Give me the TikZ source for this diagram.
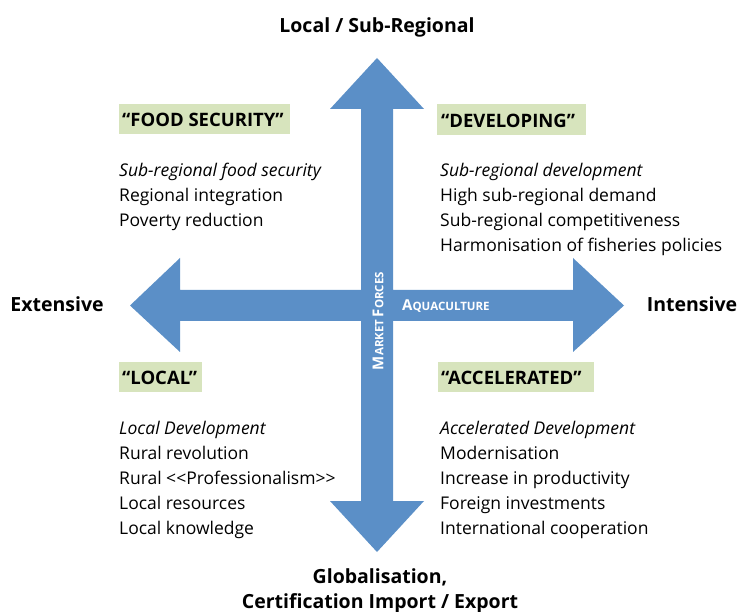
\documentclass[tikz,border=0pt]{standalone}
\usepackage{fontspec}
\setmainfont{Open Sans}
\definecolor{arrowblue}{RGB}{91,143,199}
\definecolor{labelgreen}{RGB}{215,228,189}
\begin{document}
\begin{tikzpicture}[x=1pt,y=-1pt,
  body/.style={font=\fontsize{17.5}{25}\selectfont, align=left, anchor=north west, inner sep=0pt},
  tag/.style={fill=labelgreen, inner sep=0pt, anchor=north west},
  tagtext/.style={anchor=west, font=\fontsize{18.5}{20}\selectfont\bfseries, inner sep=0pt},
  axislabel/.style={font=\fontsize{19.5}{25}\selectfont\bfseries, align=center, inner sep=0pt},
  inarrow/.style={text=white, font=\bfseries, inner sep=0pt}]
\useasboundingbox (0,0) rectangle (737,612);
% cross arrows
\fill[arrowblue] (377,58) -- (424,109) -- (393,109) -- (393,290) -- (573,290) -- (573,258) -- (624,305.5)
  -- (573,352) -- (573,321) -- (393,321) -- (393,501) -- (424,501) -- (377,552) -- (330,501) -- (361,501)
  -- (361,321) -- (180,321) -- (180,352) -- (130,305.5) -- (180,258) -- (180,290) -- (361,290) -- (361,109)
  -- (330,109) -- cycle;
% in-arrow labels
\node[inarrow, rotate=90] (mf) at (378,321) {{\fontsize{15}{16}\selectfont M}{\fontsize{11.5}{12}\selectfont ARKET} {\fontsize{15}{16}\selectfont F}{\fontsize{11.5}{12}\selectfont ORCES}};
\node[inarrow, anchor=west] (aq) at (402,306) {{\fontsize{15}{16}\selectfont A}{\fontsize{11.5}{12}\selectfont QUACULTURE}};
% axis labels
\node[axislabel] (top) at (377,27) {Local / Sub-Regional};
\node[axislabel] (left) at (57,304) {Extensive};
\node[axislabel] (right) at (692,304) {Intensive};
\node[axislabel] (bottom) at (380,591) {Globalisation,\\Certification Import / Export};
% tags
\node[tag, minimum width=171pt, minimum height=30pt] (fs) at (119,104) {};
\node[tagtext] (fst) at (122,120) {“FOOD SECURITY”};
\node[tag, minimum width=149pt, minimum height=31pt] (dv) at (437,104) {};
\node[tagtext] (dvt) at (441,120.5) {“DEVELOPING”};
\node[tag, minimum width=83pt, minimum height=30pt] (lc) at (119,362) {};
\node[tagtext] (lct) at (122,378) {“LOCAL”};
\node[tag, minimum width=156pt, minimum height=30pt] (ac) at (438,362) {};
\node[tagtext] (act) at (441,378) {“ACCELERATED”};
% bodies
\node[body] (fsb) at (119,163) {\textit{Sub-regional food security}\\Regional integration\\Poverty reduction};
\node[body] (dvb) at (440,163) {\textit{Sub-regional development}\\High sub-regional demand\\Sub-regional competitiveness\\Harmonisation of fisheries policies};
\node[body] (lcb) at (119,421) {\textit{Local Development}\\Rural revolution\\Rural <{}<Professionalism>{}>\\Local resources\\Local knowledge};
\node[body] (acb) at (440,421) {\textit{Accelerated Development}\\Modernisation\\Increase in productivity\\Foreign investments\\International cooperation};
\end{tikzpicture}
\end{document}
